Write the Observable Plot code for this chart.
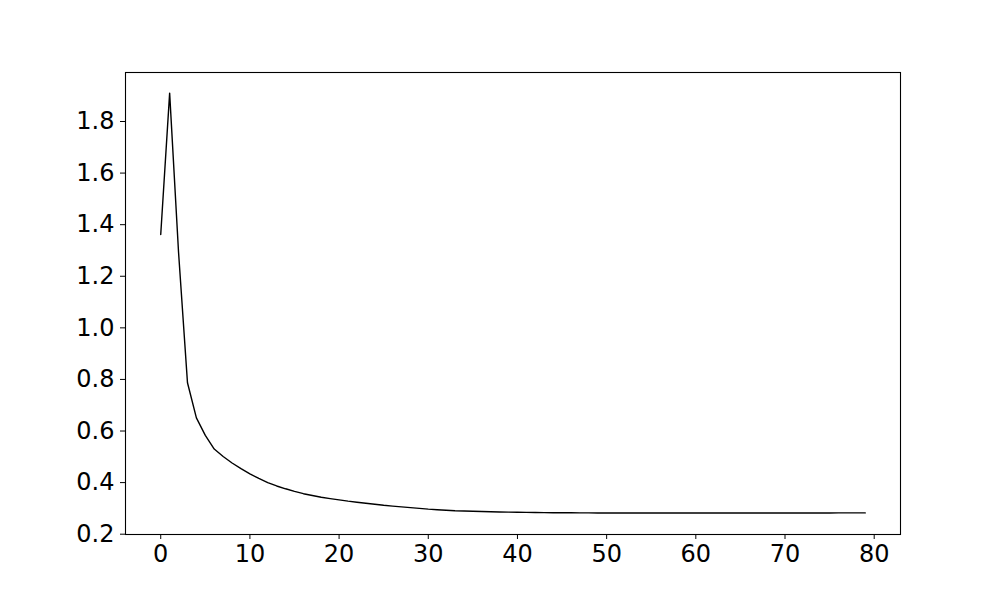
<!DOCTYPE html>
<html>
<head>
<meta charset="utf-8">
<script src="https://cdn.jsdelivr.net/npm/d3@7"></script>
<script src="https://cdn.jsdelivr.net/npm/@observablehq/plot@0.6"></script>
<style>
  html, body { margin: 0; padding: 0; background: #fff; }
</style>
</head>
<body>
<div id="chart"></div>
<script>
const steps = d3.range(0, 80);
const values = [
  1.362, 1.910, 1.292, 0.787, 0.651, 0.583, 0.530, 0.501, 0.476, 0.454,
  0.434, 0.416, 0.400, 0.387, 0.376, 0.366, 0.357, 0.350, 0.343, 0.338,
  0.333, 0.328, 0.324, 0.320, 0.316, 0.312, 0.309, 0.306, 0.303, 0.300,
  0.297, 0.295, 0.293, 0.291, 0.290, 0.289, 0.288, 0.287, 0.286, 0.2855,
  0.2850, 0.2845, 0.2840, 0.2837, 0.2834, 0.2831, 0.2829, 0.2827, 0.2825, 0.2823,
  0.2822, 0.2821, 0.2820, 0.2820, 0.2820, 0.2820, 0.2820, 0.2820, 0.2821, 0.2821,
  0.2821, 0.2821, 0.2822, 0.2822, 0.2822, 0.2822, 0.2823, 0.2823, 0.2823, 0.2823,
  0.2823, 0.2824, 0.2824, 0.2824, 0.2824, 0.2824, 0.2825, 0.2825, 0.2825, 0.2825
];
const xTicks = [0, 10, 20, 30, 40, 50, 60, 70, 80];
const yTicks = [0.2, 0.4, 0.6, 0.8, 1.0, 1.2, 1.4, 1.6, 1.8];

const data = steps.map((s, i) => ({step: s, value: values[i]}));

const chart = Plot.plot({
  width: 1000,
  height: 600,
  marginLeft: 125,
  marginRight: 100,
  marginTop: 72,
  marginBottom: 66,
  style: {fontFamily: "DejaVu Sans", fontSize: "24px", color: "black", background: "white"},
  x: {domain: [-3.95, 82.95]},
  y: {domain: [0.1988, 1.990]},
  marks: [
    Plot.frame({stroke: "black", strokeWidth: 1.1}),
    Plot.axisX({ticks: xTicks, tickSize: 5, tickPadding: 5, fontSize: 24, fontFamily: "DejaVu Sans", label: null, tickFormat: d3.format("d")}),
    Plot.axisY({ticks: yTicks, tickSize: 5, tickPadding: 6, fontSize: 24, fontFamily: "DejaVu Sans", label: null, tickFormat: d3.format(".1f")}),
    Plot.line(data, {x: "step", y: "value", stroke: "black", strokeWidth: 1.4})
  ]
});
document.getElementById("chart").appendChild(chart);
</script>
</body>
</html>
